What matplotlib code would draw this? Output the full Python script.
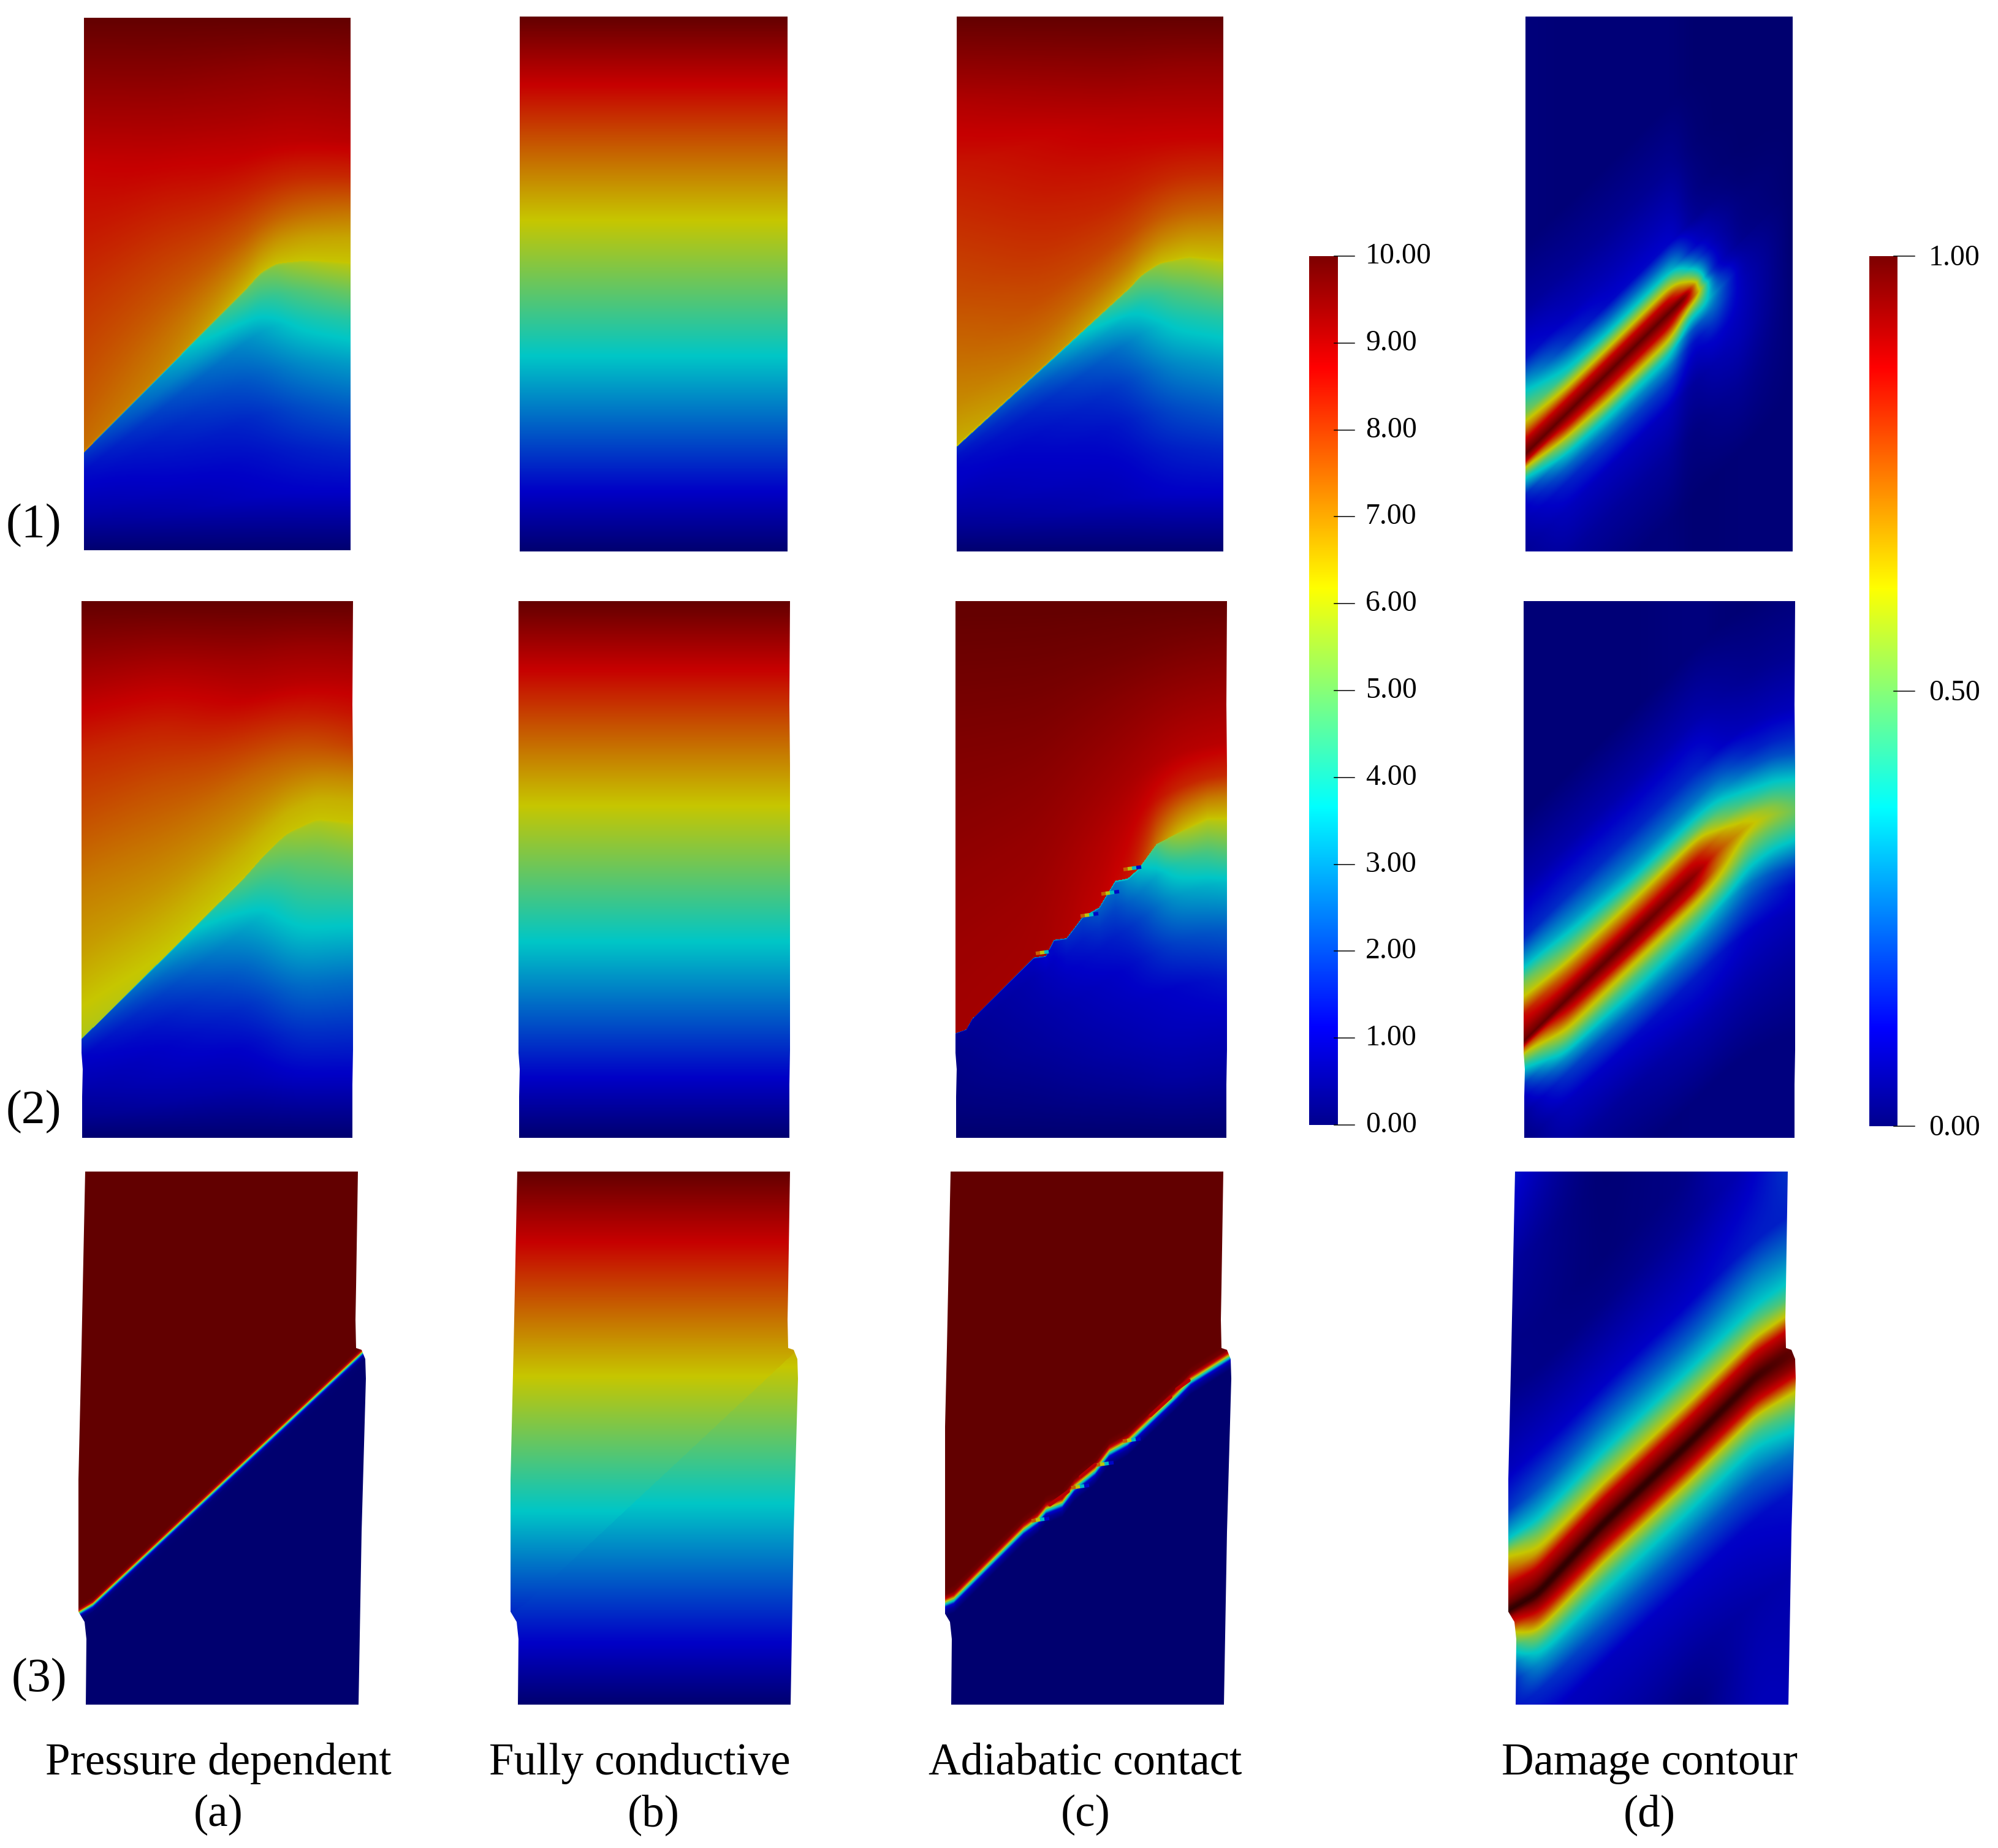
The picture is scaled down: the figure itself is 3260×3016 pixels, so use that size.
import numpy as np
import matplotlib
matplotlib.use("Agg")
import matplotlib.pyplot as plt
from matplotlib.colors import LinearSegmentedColormap
from matplotlib.patches import Polygon

# ---------- colour scale (value positions, 0..10, with the scale's colours) ----------
JET_T = [0, 1.115, 3.655, 4.92, 6.19, 8.73, 10]
JET_RGB = [(0, 0, .5625), (0, 0, 1), (0, 1, 1), (.5, 1, .5), (1, 1, 0), (1, 0, 0), (.5, 0, 0)]
SHADE = 0.78
VMAX = 10.6

# ---------- labels ----------
ROW_LABELS = ["(1)", "(2)", "(3)"]
COL_TITLES = ["Pressure dependent", "Fully conductive", "Adiabatic contact", "Damage contour"]
COL_TAGS = ["(a)", "(b)", "(c)", "(d)"]
BAR1_TICKS = [0, 1, 2, 3, 4, 5, 6, 7, 8, 9, 10]
BAR1_LABELS = ["0.00", "1.00", "2.00", "3.00", "4.00", "5.00", "6.00", "7.00", "8.00", "9.00", "10.00"]
BAR2_TICKS = [0, 5, 10]
BAR2_LABELS = ["0.00", "0.50", "1.00"]

# ---------- outlines ----------
OUT_R2 = [(133, 981), (576, 981), (575, 1150), (576, 1250), (579, 1340), (580, 1450), (578, 1600), (575, 1770),
          (575, 1857), (134, 1857), (134, 1790), (135, 1745), (132, 1705), (128, 1685), (127, 1650), (129, 1500), (131, 1250)]
OUT_R3 = [(139, 1912), (584, 1912), (581, 2100), (580, 2154), (581, 2200), (590, 2203), (596, 2218), (597, 2250),
          (590, 2500), (585, 2782), (140, 2782), (141, 2675), (138, 2647), (126, 2627), (125, 2600), (126, 2500),
          (133, 2200)]

# ---------- knots of the fields: v is distance from the crack ----------
VF = [0, .008, .1, .2, .35, .5, .65, .8, 1]
VB1 = [0, .006, .014, .026, .047, .076, .101, .129, .179, .269, .392]
VB2 = [0, .006, .0144, .0276, .0504, .0816, .108, .138, .192, .288, .42]
V3 = [0, .006, .014, .029, .047, .076, .107, .137, .19, .262, .416, .5, .65, .82]
VT = [0, .004, .008, .015, .03]
YB = [0, .127, .381, .635, .889, 1]
TB = [10, 8.73, 6.19, 3.65, 1.11, 0]
YB3U = [0, .132, .384, .638, .875, 1]
YB3L = [0, .132, .366, .624, .885, 1]

# a1
A1_XK = [0, .3, .62, .8, 1]
A1_CX = [0, .617, .66, .72, .83, 1]
A1_CY = [.816, .505, .48, .462, .456, .46]
A1_UP = [[7.0, 7.3, 7.55, 7.75, 8.05, 8.4, 8.7, 9.25, 10], [6.9, 7.1, 7.3, 7.6, 8.0, 8.45, 8.95, 9.4, 10],
         [6.3, 6.4, 7.0, 7.6, 8.25, 8.8, 9.15, 9.45, 10], [6.2, 6.25, 6.7, 7.35, 8.2, 8.85, 9.15, 9.45, 10],
         [6.2, 6.25, 6.6, 7.2, 8.2, 8.9, 9.2, 9.5, 10]]
A1_LO = [[3, 1.8, 1.5, 1.25, 1.1, .9, .7, .4, 0], [4, 3, 2.6, 2.0, 1.55, 1.3, 1.05, .7, 0],
         [5.5, 4.9, 3.9, 2.9, 2.2, 1.6, 1.25, 1.0, 0], [6.0, 5.8, 4.7, 3.9, 2.9, 2.1, 1.5, 1.1, 0],
         [6.2, 6.0, 5.0, 4.1, 3.1, 2.3, 1.6, 1.1, 0]]
# c1
C1_XK = [0, .3, .62, .8, 1]
C1_CX = [0, .655, .69, .76, .87, 1]
C1_CY = [.804, .505, .485, .462, .45, .456]
C1_UP = [[6.2, 6.5, 6.95, 7.3, 7.75, 8.1, 8.45, 9.0, 10], [6.7, 7.0, 7.4, 7.75, 8.1, 8.4, 8.65, 9.2, 10],
         [6.4, 6.6, 7.3, 7.85, 8.3, 8.6, 8.95, 9.4, 10], [6.2, 6.3, 6.9, 7.5, 8.2, 8.7, 9.05, 9.4, 10],
         [6.2, 6.3, 6.8, 7.4, 8.15, 8.7, 9.05, 9.4, 10]]
C1_LO = [[3, 1.6, 1.3, 1.15, 1.05, .85, .65, .4, 0], [3.5, 2.6, 2.0, 1.55, 1.25, 1.1, .95, .65, 0],
         [5, 4.5, 3.4, 2.5, 1.8, 1.35, 1.1, .9, 0], [6.0, 5.8, 4.7, 3.9, 2.9, 2.1, 1.5, 1.1, 0],
         [6.2, 6.0, 5.0, 4.1, 3.1, 2.3, 1.6, 1.1, 0]]
# a2
A2_XK = [0, .3, .62, .8, 1]
A2_CX = [0, .603, .67, .754, .867, 1]
A2_CY = [.816, .514, .475, .434, .407, .413]
A2_UP = [[5.6, 5.9, 6.3, 6.7, 7.15, 7.7, 8.2, 9.0, 10], [6.1, 6.2, 6.5, 6.85, 7.3, 7.75, 8.3, 9.0, 10],
         [6.2, 6.25, 6.5, 6.9, 7.4, 8.1, 8.85, 9.3, 10], [6.2, 6.25, 6.45, 6.9, 7.6, 8.3, 8.9, 9.3, 10],
         [6.2, 6.25, 6.5, 7.0, 7.9, 8.5, 8.95, 9.35, 10]]
A2_LO = [[2.5, 1.7, 1.4, 1.1, .95, .8, .6, .4, 0], [4.5, 3, 2.4, 1.9, 1.4, 1.1, .95, .65, 0],
         [5.2, 4.8, 4.0, 3.2, 2.4, 1.7, 1.15, .8, 0], [6.0, 5.8, 5.0, 4.4, 3.55, 2.6, 1.8, 1.1, 0],
         [6.2, 6.0, 5.2, 4.5, 3.5, 2.5, 1.75, 1.1, 0]]
# c2
C2_XK = [0, .3, .66, .8, 1]
C2_CX = [0, .040, .062, .288, .333, .363, .409, .469, .529, .589, .634, .672, .740, .815, .928, 1]
C2_CY = [.805, .798, .778, .664, .661, .631, .628, .588, .571, .521, .517, .500, .453, .433, .406, .405]
C2_UP = [[9.2, 9.2, 9.22, 9.27, 9.37, 9.5, 9.62, 9.78, 10], [9.1, 9.2, 9.22, 9.27, 9.37, 9.5, 9.65, 9.8, 10],
         [8.6, 8.6, 8.73, 8.85, 9.1, 9.3, 9.5, 9.75, 10], [6.2, 6.3, 7.2, 8.25, 8.95, 9.2, 9.45, 9.7, 10],
         [6.2, 6.3, 7.1, 8.2, 8.9, 9.15, 9.4, 9.65, 10]]
C2_LO = [[3, .5, .4, .35, .3, .25, .2, .12, 0], [3, 1, .8, .75, .65, .55, .4, .25, 0],
         [4, 3, 2.3, 1.7, 1.2, 1.0, .8, .5, 0], [6, 5.8, 4.1, 3.1, 2, 1.15, .95, .65, 0],
         [6.2, 6, 4.8, 3.5, 2.25, 1.4, .95, .6, 0]]
# row 3, sharp crack
A3_CX = [0, .05, .989, 1]
A3_CY = [.828, .812, .339, .336]
C3_CX = [-.004, .031, .273, .322, .351, .408, .450, .522, .571, .635, .806, .855, .991, 1]
C3_CY = [.810, .802, .672, .653, .634, .622, .592, .561, .526, .507, .419, .392, .346, .344]
R3_XK = [0, 1]
R3A_UP = [[5, 8.5, 9.7, 10, 10]] * 2
R3A_LO = [[5, 1.8, .5, .05, 0]] * 2
R3C_VT = [0, .004, .008, .015, .026]
R3C_UP = [[5, 7.2, 8.8, 9.8, 10]] * 2
R3C_LO = [[5, 3.2, 1.3, .5, 0]] * 2
# d1
D1_XK = [0, .15, .3, .55, .62, .66, .7, .8, 1]
D1_CX = [0, .637, 1]
D1_CY = [.818, .505, .325]
D1_MID_U = [10, 9.7, 9.3, 8.73, 6.19, 3.65, 2.4, 1.2, .9, .45, .1]
D1_MID_L = [10, 9.7, 9.3, 8.73, 6.6, 4, 2.8, 1.9, 1.0, .55, .15]
D1_UP = [[10, 9.8, 9.5, 8.9, 7.2, 5.2, 4.3, 3.3, 1.4, .6, .15],
         [10, 9.7, 9.3, 8.73, 6.4, 4, 3, 1.8, 1, .5, .1],
         D1_MID_U, D1_MID_U,
         [9.8, 9.3, 7.5, 5.4, 3.1, 1.2, .9, .5, .3, .1, 0],
         [3.5, 3.3, 3, 2.5, 1.5, 1, .8, .4, .2, .05, 0],
         [1.3, 1.25, 1.2, 1.1, .9, .7, .5, .3, .1, 0, 0],
         [.4, .38, .35, .3, .25, .2, .12, .05, 0, 0, 0],
         [0, 0, 0, 0, 0, 0, 0, 0, 0, 0, 0]]
D1_LO = [[10, 9.5, 8.7, 6, 3.5, 1.5, 1, .8, .5, .25, .05],
         [10, 9.7, 9.2, 8.4, 5.8, 3.6, 2.4, 1.5, 1, .55, .15],
         D1_MID_L, D1_MID_L,
         [9.8, 9.4, 8.5, 6, 3.5, 1.8, 1.15, .9, .5, .2, .05],
         [3.5, 4.5, 6, 6, 4.5, 2.2, 1.3, 1.0, .6, .25, .05],
         [1.3, 1.4, 1.6, 2.2, 3, 2.6, 2, 1.3, .8, .35, .05],
         [.45, .5, .55, .65, .8, .95, 1, 1, .9, .5, .1],
         [0, 0, 0, 0, 0, 0, 0, .02, .05, .1, .1]]
# d2
D2_XK = [0, .15, .4, .641, .72, .828, 1]
D2_CX = [0, .149, .641, .72, .828, .92, 1]
D2_CY = [.82, .747, .506, .464, .417, .396, .39]
D2_UP = [[10, 9.7, 9.5, 9.1, 8.5, 6.3, 5.2, 3.6, 1.6, .75, .1],
         [10, 9.8, 9.4, 8.7, 7.4, 5.4, 4.2, 3.1, 1.7, .75, .1],
         [10, 9.8, 9.4, 8.6, 7.1, 5.1, 3.6, 2.7, 1.6, .75, .1],
         [9.6, 9.4, 9.1, 8.7, 7.3, 4.9, 3.6, 2.6, 1.6, .8, .2],
         [7.6, 7.5, 7.2, 6.8, 5.4, 4.1, 3.2, 2.4, 1.1, .6, .1],
         [6.4, 6.2, 6, 5.2, 4.1, 3.1, 2.2, 1.5, .9, .4, .05],
         [5, 4.95, 4.8, 4.5, 3.9, 2.9, 2.1, 1.6, .95, .45, .1]]
D2_LO = [[10, 9.3, 7.5, 5.6, 3.65, 1.6, .9, .5, .2, .1, 0],
         [10, 9.7, 9.2, 8.4, 6.6, 4.6, 3.0, 1.8, 1, .5, .1],
         [10, 9.8, 9.4, 8.75, 6.5, 4.6, 3.6, 2.5, 1.2, .55, .1],
         [9.6, 9.4, 9.1, 8.7, 6.5, 4.7, 3.6, 2.7, 1.5, .8, .2],
         [7.6, 7.5, 7.3, 7.0, 6.2, 4.6, 3.4, 2.6, 1.4, .8, .2],
         [6.4, 6.3, 6, 5.4, 4.6, 3.5, 2.6, 2, 1.1, .7, .2],
         [5, 4.95, 4.8, 4.5, 3.8, 2.7, 1.8, 1.2, .9, .55, .2]]
# d3
D3_XK = [0, .1, .33, .63, .86, 1]
D3_CX = [0, .098, .326, .631, .859, .989, 1]
D3_CY = [.825, .794, .663, .508, .386, .339, .335]
D3_UP = [[10.5, 10.4, 10, 9.4, 9, 7.5, 6, 3.65, 1.8, 1, .35, .3, .6, 1.5],
         [10.5, 10.4, 10, 9.4, 8.8, 6.5, 5, 3.65, 2.2, 1.1, .3, .3, .45, 1.0],
         [10.5, 10.4, 10, 9.4, 8.73, 6.19, 4.9, 3.65, 2.5, 1.11, .3, .1, .05, 0],
         [10.5, 10.4, 10, 9.4, 8.73, 6.19, 4.9, 3.65, 2.4, 1.11, .5, .3, .3, .3],
         [10.4, 10.3, 10, 9.4, 8.73, 6.19, 4.8, 3.65, 2.8, 1.5, .95, 1.3, 1.5, 1.5],
         [10, 10, 9.9, 9.4, 8.73, 6.19, 4.5, 3.65, 2.6, 1.5, 2.2, 2.2, 2.2, 2.2]]
D3_LO = [[10.5, 10, 9, 7.8, 5.5, 3.4, 2, 1.2, 1.3, 1.6, 1.6, 1.6, 1.6, 1.6],
         [10.5, 10.4, 10, 9.3, 8.3, 5.9, 4.2, 3.1, 1.6, 1, 1, 1, 1, 1],
         [10.5, 10.4, 10, 9.4, 8.5, 5.9, 4.3, 3.4, 2.2, 1, .65, .5, .5, .5],
         [10.5, 10.4, 10, 9.4, 8.5, 5.9, 4.3, 3.4, 2.2, 1.11, .5, .15, .15, .15],
         [10.4, 10.3, 10, 9.4, 8.5, 5.8, 4.3, 3.4, 2.2, 1.2, .7, .85, 1, 1],
         [10, 10, 9.9, 9.5, 8.73, 6.3, 5, 4, 2.6, 1.4, .8, .8, .9, .9]]

# ---------- crack details ----------
C2_NOTCH_X = [1690, 1763, 1797, 1833]
C2_NOTCH_Y = [1556, 1495, 1459, 1419]
C3_NOTCH_X = [1683, 1748, 1788, 1832]
C3_NOTCH_Y = [2482, 2428, 2391, 2352]
NOTCH_T = [7.5, 6, 3.5, 1.2]
C3_HALO = [(1713, 2456, 1743, 2434), (1763, 2410, 1787, 2390), (1877, 2310, 1910, 2280), (1920, 2267, 1940, 2253)]

# ---------- panels: sx smooths a table along x, cs smooths the crack line ----------
PANELS = [
    dict(box=(137, 29, 435, 869), out=None, mode="frac", xk=A1_XK, v=VF, cx=A1_CX, cy=A1_CY, up=A1_UP, lo=A1_LO, sx=.06, cs=.012),
    dict(box=(848, 27, 437, 873), out=None, mode="y", yu=YB, yl=YB, cx=[0, 1], cy=[2, 2]),
    dict(box=(1561, 27, 435, 873), out=None, mode="frac", xk=C1_XK, v=VF, cx=C1_CX, cy=C1_CY, up=C1_UP, lo=C1_LO, sx=.06, cs=.012),
    dict(box=(2489, 27, 436, 873), out=None, mode="abs", xk=D1_XK, v=VB1, cx=D1_CX, cy=D1_CY, up=D1_UP, lo=D1_LO, sx=.024, cs=0),
    dict(box=(133, 981, 443, 876), out=(OUT_R2, 0), mode="frac", xk=A2_XK, v=VF, cx=A2_CX, cy=A2_CY, up=A2_UP, lo=A2_LO, sx=.06, cs=.015),
    dict(box=(846, 981, 443, 876), out=(OUT_R2, 713), mode="y", yu=YB, yl=YB, cx=[0, 1], cy=[2, 2]),
    dict(box=(1559, 981, 443, 876), out=(OUT_R2, 1426), mode="frac", xk=C2_XK, v=VF, cx=C2_CX, cy=C2_CY, up=C2_UP, lo=C2_LO, sx=.05, cs=0),
    dict(box=(2486, 981, 443, 876), out=(OUT_R2, 2353), mode="abs", xk=D2_XK, v=VB2, cx=D2_CX, cy=D2_CY, up=D2_UP, lo=D2_LO, sx=.03, cs=.02),
    dict(box=(128, 1912, 469, 870), out=(OUT_R3, 0), mode="abs", xk=R3_XK, v=VT, cx=A3_CX, cy=A3_CY, up=R3A_UP, lo=R3A_LO, sx=0, cs=0),
    dict(box=(833, 1912, 469, 870), out=(OUT_R3, 705), mode="y", yu=YB3U, yl=YB3L, cx=A3_CX, cy=A3_CY),
    dict(box=(1542, 1912, 469, 870), out=(OUT_R3, 1412), mode="abs", xk=R3_XK, v=R3C_VT, cx=C3_CX, cy=C3_CY, up=R3C_UP, lo=R3C_LO, sx=0, cs=0),
    dict(box=(2461, 1912, 469, 870), out=(OUT_R3, 2333), mode="abs", xk=D3_XK, v=V3, cx=D3_CX, cy=D3_CY, up=D3_UP, lo=D3_LO, sx=.04, cs=.015),
]

FINE = np.linspace(0, 1, 801)


def gauss(arr, sigma):
    """Smooth along the first axis; ends are continued by odd reflection."""
    if sigma <= 0:
        return arr
    step = FINE[1] - FINE[0]
    r = int(4 * sigma / step)
    k = np.exp(-.5 * (np.arange(-r, r + 1) * step / sigma) ** 2)
    k /= k.sum()
    head = 2 * arr[:1] - arr[1:r + 1][::-1]
    tail = 2 * arr[-1:] - arr[-r - 1:-1][::-1]
    padded = np.concatenate([head, arr, tail], axis=0)
    return np.apply_along_axis(lambda c: np.convolve(c, k, mode="valid"), 0, padded)


def fine_table(xk, table, sigma):
    t = np.asarray(table, float)
    dense = np.column_stack([np.interp(FINE, xk, t[:, j]) for j in range(t.shape[1])])
    return np.clip(gauss(dense, sigma), 0, VMAX)


def lookup(x, v, vk, table):
    vk = np.asarray(vk, float)
    v = np.clip(v, vk[0], vk[-1])
    fi = np.clip(x, 0, 1) * (len(FINE) - 1)
    i = np.clip(fi.astype(int), 0, len(FINE) - 2)
    fx = fi - i
    j = np.clip(np.searchsorted(vk, v, side="right") - 1, 0, len(vk) - 2)
    fv = (v - vk[j]) / (vk[j + 1] - vk[j])
    t = table
    return ((1 - fx) * (1 - fv) * t[i, j] + fx * (1 - fv) * t[i + 1, j]
            + (1 - fx) * fv * t[i, j + 1] + fx * fv * t[i + 1, j + 1])


def field(p):
    _, _, w, h = p["box"]
    x, y = np.meshgrid((np.arange(w) + .5) / w, (np.arange(h) + .5) / h)
    cf = np.interp(FINE, p["cx"], p["cy"])
    yc = np.interp(x, FINE, gauss(cf, p.get("cs", 0)))
    above = y < yc
    if p["mode"] == "y":
        return np.where(above, np.interp(y, p["yu"], TB), np.interp(y, p["yl"], TB))
    # far from the crack the contours follow a rounder version of the crack line
    yfar = np.interp(x, FINE, gauss(cf, .09))
    if p["mode"] == "frac":
        wu = np.clip((yc - y) / yc / .25, 0, 1)
        wl = np.clip((y - yc) / (1 - yc) / .25, 0, 1)
        ycu = yc + (yfar - yc) * wu
        ycl = yc + (yfar - yc) * wl
        vu = (ycu - y) / ycu
        vl = (y - ycl) / (1 - ycl)
    else:
        wd = np.clip(np.abs(y - yc) / .22, 0, 1) ** 2
        ye = yc + (yfar - yc) * wd
        vu = ye - y
        vl = y - ye
    up = fine_table(p["xk"], p["up"], p["sx"])
    lo = fine_table(p["xk"], p["lo"], p["sx"])
    return np.where(above, lookup(x, vu, p["v"], up), lookup(x, vl, p["v"], lo))


pos = [t / VMAX for t in JET_T] + [1.0]
panel_cmap = LinearSegmentedColormap.from_list(
    "panel", list(zip(pos, [tuple(SHADE * c for c in rgb) for rgb in JET_RGB] + [(.16, 0, 0)])), N=1024)
bar_cmap = LinearSegmentedColormap.from_list("bar", list(zip([t / 10 for t in JET_T], JET_RGB)), N=1024)

plt.rcParams["font.family"] = ["Liberation Serif", "DejaVu Serif"]
fig = plt.figure(figsize=(32.6, 30.16), dpi=100, facecolor="white")
ax = fig.add_axes([0, 0, 1, 1])
ax.set_axis_off()

for p in PANELS:
    bx, by, w, h = p["box"]
    im = ax.imshow(field(p), extent=(bx, bx + w, by + h, by), origin="upper", cmap=panel_cmap,
                   vmin=0, vmax=VMAX, interpolation="bilinear", aspect="auto", zorder=1)
    if p["out"] is not None:
        pts, dx = p["out"]
        im.set_clip_path(Polygon([(a + dx, b) for a, b in pts], closed=True, transform=ax.transData))

# notches on the cracks of (c)
for xs, ys in [(C2_NOTCH_X, C2_NOTCH_Y), (C3_NOTCH_X, C3_NOTCH_Y)]:
    for nx, ny in zip(xs, ys):
        for k, t in enumerate(NOTCH_T):
            ax.plot([nx + 7 * k, nx + 7 * k + 8], [ny - k, ny - k - 1], color=panel_cmap(t / VMAX),
                    lw=4.2, solid_capstyle="butt", zorder=2)
for x0, y0, x1, y1 in C3_HALO:
    ax.plot([x0, x1], [y0, y1], color=panel_cmap(8.9 / VMAX), lw=4, solid_capstyle="round", zorder=2)

# colour bars
for (x0, x1, y0, y1, t0, t1, lx, ly, ticks, labels) in [
    (2136, 2183, 418, 1836, 2177, 2210, 2228, 0, BAR1_TICKS, BAR1_LABELS),
    (3050, 3096, 418, 1838, 3090, 3124, 3147, 3, BAR2_TICKS, BAR2_LABELS),
]:
    grad = np.linspace(10, 0, 512)[:, None]
    ax.imshow(grad, extent=(x0, x1, y1, y0), cmap=bar_cmap, vmin=0, vmax=10, aspect="auto", zorder=1)
    for t, lab in zip(ticks, labels):
        yy = y1 + (y0 - y1) * t / 10
        ax.plot([t0, t1], [yy, yy], color="black", lw=1.1, zorder=3)
        ax.text(lx, yy + ly, lab, fontsize=34.5, va="center", ha="left", color="black")

# labels
for lab, lx, ly in zip(ROW_LABELS, [10, 10, 19], [858, 1815, 2742]):
    ax.text(lx, ly, lab, fontsize=56, va="center", ha="left", color="black")
for tit, tag, cx, tx in zip(COL_TITLES, COL_TAGS, [356, 1044, 1771, 2691], [356, 1066, 1771, 2691]):
    ax.text(cx, 2878, tit, fontsize=52.5, va="center", ha="center", color="black")
    ax.text(tx, 2962, tag, fontsize=52.5, va="center", ha="center", color="black")

ax.set_xlim(0, 3260)
ax.set_ylim(3016, 0)
fig.savefig("out.png", dpi=100, facecolor="white")
